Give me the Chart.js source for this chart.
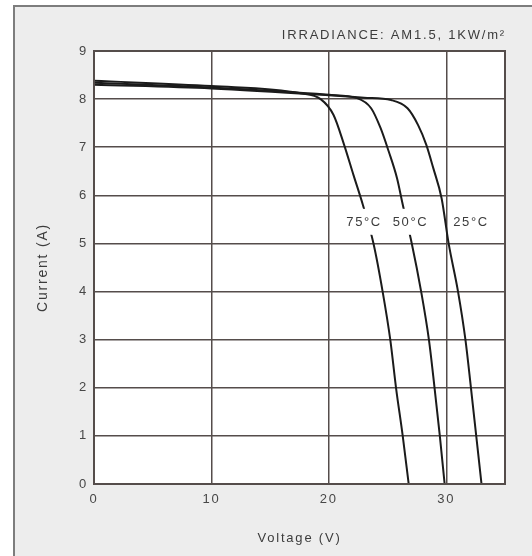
<!DOCTYPE html>
<html>
<head>
<meta charset="utf-8">
<script src="https://cdn.jsdelivr.net/npm/chart.js@4/dist/chart.umd.min.js"></script>
<style>
  html, body { margin: 0; padding: 0; background: #ffffff; }
  canvas { display: block; }
</style>
</head>
<body>
<canvas id="ivChart" width="532" height="556"></canvas>
<script>
// I-V curves of the module at three cell temperatures
const temperatures = ["25°C", "50°C", "75°C"];

const voltage25 = [0, 10, 20, 23, 25.3, 26.7, 27.6, 28.3, 28.9, 29.6, 30.2, 31.0, 31.63, 32.1, 32.55, 33.0];
const current25 = [8.30, 8.22, 8.08, 8.03, 7.98, 7.81, 7.46, 7.05, 6.56, 5.94, 5.0, 4.0, 3.0, 2.0, 1.0, 0];

const voltage50 = [0, 10, 20, 22.4, 23.6, 24.4, 25.1, 25.8, 26.3, 27.06, 27.86, 28.52, 29.0, 29.45, 29.86];
const current50 = [8.34, 8.24, 8.09, 8.02, 7.81, 7.4, 6.91, 6.36, 5.8, 5.0, 4.0, 3.0, 2.0, 1.0, 0];

const voltage75 = [0, 10, 17.6, 19.3, 20.4, 21.3, 22.1, 22.9, 23.8, 24.58, 25.23, 25.72, 26.29, 26.8];
const current75 = [8.38, 8.27, 8.12, 8.0, 7.67, 7.05, 6.42, 5.8, 5.0, 4.0, 3.0, 2.0, 1.0, 0];

const xTickValues = [0, 10, 20, 30];
const irradianceText = "IRRADIANCE: AM1.5, 1KW/m²";

const lineColor = "#1b1b1b";
const gridColor = "#554d4b";
const textColor = "#3c3c3c";
const fontFamily = "'Liberation Sans', Arial, sans-serif";

function toPoints(xs, ys) {
  return xs.map((x, i) => ({ x: x, y: ys[i] }));
}

const curves = [
  { label: temperatures[0], data: toPoints(voltage25, current25) },
  { label: temperatures[1], data: toPoints(voltage50, current50) },
  { label: temperatures[2], data: toPoints(voltage75, current75) },
];

// where each temperature tag sits (data units)
const tagAnchors = [
  { x: 32.1, y: 5.45 },
  { x: 26.95, y: 5.45 },
  { x: 23.0, y: 5.45 },
];

const framePlugin = {
  id: "frame",
  beforeDraw(chart) {
    const ctx = chart.ctx;
    const area = chart.chartArea;
    ctx.save();
    ctx.fillStyle = "#ffffff";
    ctx.fillRect(0, 0, chart.width, chart.height);
    ctx.fillStyle = "#ededed";
    ctx.fillRect(14, 6, chart.width - 14, chart.height - 6);
    ctx.strokeStyle = "#7d7d7d";
    ctx.lineWidth = 2;
    ctx.beginPath();
    ctx.moveTo(14, chart.height);
    ctx.lineTo(14, 6);
    ctx.lineTo(chart.width, 6);
    ctx.stroke();
    ctx.fillStyle = "#ffffff";
    ctx.fillRect(area.left, area.top, area.right - area.left, area.bottom - area.top);
    ctx.restore();
    // wide tracking for the axis text drawn after this point
    ctx.letterSpacing = "1.8px";
  },
  afterDatasetsDraw(chart) {
    const ctx = chart.ctx;
    const xs = chart.scales.x;
    const ys = chart.scales.y;
    ctx.save();
    ctx.letterSpacing = "1.6px";
    ctx.font = "13px " + fontFamily;
    ctx.textAlign = "center";
    ctx.textBaseline = "middle";
    curves.forEach((c, i) => {
      const px = xs.getPixelForValue(tagAnchors[i].x);
      const py = ys.getPixelForValue(tagAnchors[i].y);
      const w = ctx.measureText(c.label).width + 6;
      ctx.fillStyle = "#ffffff";
      ctx.fillRect(px - w / 2, py - 13, w, 26);
      ctx.fillStyle = textColor;
      ctx.fillText(c.label, px, py + 1);
    });
    ctx.restore();
  },
  afterDraw(chart) {
    const ctx = chart.ctx;
    const area = chart.chartArea;
    ctx.save();
    ctx.strokeStyle = gridColor;
    ctx.lineWidth = 2;
    ctx.strokeRect(area.left, area.top, area.right - area.left, area.bottom - area.top);
    ctx.letterSpacing = "1.8px";
    ctx.font = "13px " + fontFamily;
    ctx.fillStyle = textColor;
    ctx.textAlign = "right";
    ctx.textBaseline = "middle";
    ctx.fillText(irradianceText, area.right + 1, area.top - 16);
    ctx.restore();
  },
};

const ctx = document.getElementById("ivChart").getContext("2d");
const ivChart = new Chart(ctx, {
  type: "scatter",
  data: {
    datasets: curves.map(c => ({
      label: c.label,
      data: c.data,
      showLine: true,
      borderColor: lineColor,
      borderWidth: 2,
      pointRadius: 0,
      cubicInterpolationMode: "monotone",
      fill: false,
    })),
  },
  options: {
    responsive: false,
    animation: false,
    layout: { padding: { top: 51, right: 27, left: 0, bottom: 0 } },
    plugins: {
      legend: { display: false },
      tooltip: { enabled: false },
    },
    scales: {
      x: {
        type: "linear",
        min: 0,
        max: 35,
        afterBuildTicks: s => { s.ticks = xTickValues.map(v => ({ value: v })); },
        afterFit: s => { s.height = 72; },
        border: { display: false },
        grid: { color: gridColor, lineWidth: 1.5, drawTicks: false },
        ticks: {
          padding: 8,
          color: "#474747",
          font: { family: fontFamily, size: 13 },
        },
        title: {
          display: true,
          text: "Voltage (V)",
          color: textColor,
          font: { family: fontFamily, size: 13 },
          padding: { top: 0, bottom: 10 },
        },
      },
      y: {
        min: 0,
        max: 9,
        afterFit: s => { s.width = 94; },
        border: { display: false },
        grid: { color: gridColor, lineWidth: 1.5, drawTicks: false },
        ticks: {
          stepSize: 1,
          padding: 6,
          color: "#474747",
          font: { family: fontFamily, size: 13 },
        },
        title: {
          display: true,
          text: "Current (A)",
          color: textColor,
          font: { family: fontFamily, size: 14 },
          padding: { top: 35, bottom: 0 },
        },
      },
    },
  },
  plugins: [framePlugin],
});
</script>
</body>
</html>
